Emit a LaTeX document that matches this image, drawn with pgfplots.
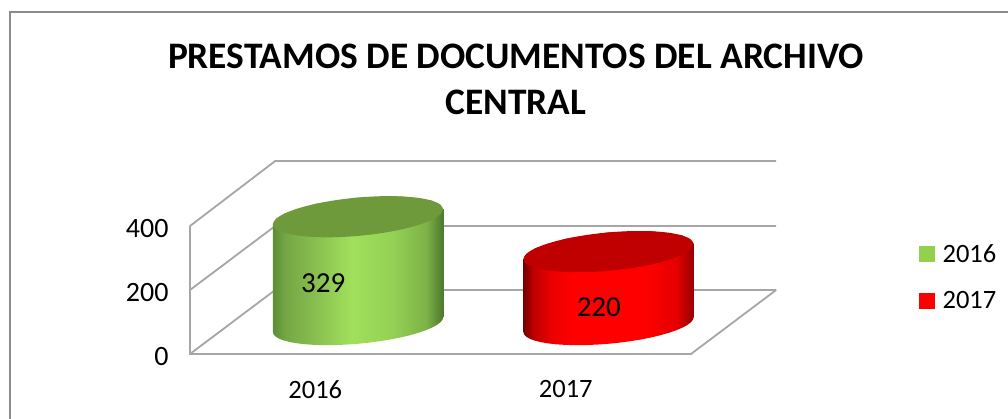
\documentclass[border=0pt]{standalone}
\usepackage{fontspec}
\setmainfont{Carlito}
\usepackage{pgfplots}
\usepackage{pgfplotstable}
\pgfplotsset{compat=1.18}
\definecolor{gridg}{HTML}{A6A6A6}
\definecolor{frameg}{HTML}{8C8C8C}
\definecolor{greentop}{HTML}{6F9A3C}
\definecolor{redtop}{HTML}{C00000}
\definecolor{g2016}{HTML}{92D050}
\definecolor{r2017}{HTML}{FF0000}
\pgfdeclarehorizontalshading{greencyl}{100bp}{
 rgb(0bp)=(0.36,0.56,0.20);
 rgb(25bp)=(0.36,0.56,0.20);
 rgb(29bp)=(0.46,0.66,0.27);
 rgb(37bp)=(0.53,0.74,0.31);
 rgb(48bp)=(0.63,0.88,0.36);
 rgb(60bp)=(0.58,0.82,0.33);
 rgb(70bp)=(0.49,0.70,0.28);
 rgb(75bp)=(0.30,0.47,0.17);
 rgb(100bp)=(0.30,0.47,0.17)}
\pgfdeclarehorizontalshading{redcyl}{100bp}{
 rgb(0bp)=(0.45,0,0);
 rgb(25bp)=(0.45,0,0);
 rgb(28bp)=(0.75,0,0);
 rgb(33bp)=(0.92,0,0);
 rgb(40bp)=(1,0,0);
 rgb(60bp)=(1,0,0);
 rgb(70bp)=(0.90,0,0);
 rgb(75bp)=(0.58,0,0);
 rgb(100bp)=(0.58,0,0)}
% unit circle, outline of a cylinder: flag=1 points are raised to the value
\pgfplotstableread{
c s f
-1.000 0.000 0
-0.991 -0.131 0
-0.966 -0.259 0
-0.924 -0.383 0
-0.866 -0.500 0
-0.793 -0.609 0
-0.707 -0.707 0
-0.609 -0.793 0
-0.500 -0.866 0
-0.383 -0.924 0
-0.259 -0.966 0
-0.131 -0.991 0
0.000 -1.000 0
0.131 -0.991 0
0.259 -0.966 0
0.383 -0.924 0
0.500 -0.866 0
0.609 -0.793 0
0.707 -0.707 0
0.793 -0.609 0
0.866 -0.500 0
0.924 -0.383 0
0.966 -0.259 0
0.991 -0.131 0
1.000 0.000 0
1.000 0.000 1
0.866 0.500 1
0.500 0.866 1
0.000 1.000 1
-0.500 0.866 1
-0.866 0.500 1
-1.000 0.000 1
}\cylbody
\pgfplotstableread{
c s
1.000 0.000
0.966 0.259
0.866 0.500
0.707 0.707
0.500 0.866
0.259 0.966
0.000 1.000
-0.259 0.966
-0.500 0.866
-0.707 0.707
-0.866 0.500
-0.966 0.259
-1.000 0.000
-0.966 -0.259
-0.866 -0.500
-0.707 -0.707
-0.500 -0.866
-0.259 -0.966
0.000 -1.000
0.259 -0.966
0.500 -0.866
0.707 -0.707
0.866 -0.500
0.966 -0.259
}\cyltop
\newcommand\cyl[4]{%
 \addplot[draw=none,shading=#3,forget plot] table[
   x expr=#1+0.171+0.34*\thisrow{c},
   y expr=92+23.4*\thisrow{c}+60*\thisrow{s}+(#2+8)*\thisrow{f}] {\cylbody} --cycle;
 \addplot[draw=none,fill=#4,smooth,forget plot] table[
   x expr=#1+0.171+0.34*\thisrow{c},
   y expr=100+#2+23.4*\thisrow{c}+60*\thisrow{s}] {\cyltop} --cycle;
}
\begin{document}
\begin{tikzpicture}[x=1pt,y=1pt]
\useasboundingbox (0,0) rectangle (1008,419);
\draw[frameg,line width=2pt] (10,0) -- (10,407) -- (1008,407);
\node[font=\bfseries\fontsize{37.4}{46}\selectfont,align=center,anchor=center] at (516,339.5) {PRESTAMOS DE DOCUMENTOS DEL ARCHIVO\\CENTRAL};
\begin{axis}[
  at={(190pt,65pt)},anchor=south west,scale only axis,width=501pt,height=128pt,
  xmin=-0.5,xmax=1.5,ymin=0,ymax=400,clip=false,
  axis line style={draw=none},tick style={draw=none},
  xtick={0,1},xticklabels={2016,2017},ytick={0,200,400},
  xticklabel style={font=\fontsize{26.5}{30}\selectfont,yshift=-23pt},
  yticklabel style={font=\fontsize{28}{32}\selectfont,xshift=-18pt,yshift=-3pt},
  /pgf/number format/assume math mode=true,
  legend style={draw=none,fill=none,at={(1.0,1.0)},anchor=north west,xshift=225pt,yshift=-14pt,
     font=\fontsize{26.5}{30}\selectfont,row sep=24pt,legend cell align=left,
     /tikz/every odd column/.append style={column sep=6pt}},
  legend image code/.code={\fill[#1] (0pt,-7.5pt) rectangle (15pt,7.5pt);},
]
\addlegendimage{g2016}\addlegendentry{2016}
\addlegendimage{r2017}\addlegendentry{2017}
% walls
\addplot[gridg,line width=1.8pt,forget plot] coordinates {(-0.5,0)(-0.16,200)(1.84,200)};
\addplot[gridg,line width=1.8pt,forget plot] coordinates {(-0.5,200)(-0.16,400)(1.84,400)};
\addplot[gridg,line width=1.8pt,forget plot] coordinates {(-0.5,400)(-0.16,603)(1.84,603)};
\addplot[gridg,line width=1.8pt,forget plot] coordinates {(-0.5,400)(-0.5,0)(1.5,0)(1.84,200)};
\cyl{0}{329}{greencyl}{greentop}
\cyl{1}{220}{redcyl}{redtop}
\node[font=\fontsize{29}{32}\selectfont] at (axis cs:0.032,222) {329};
\node[font=\fontsize{29}{32}\selectfont] at (axis cs:1.132,147) {220};
\end{axis}
\end{tikzpicture}
\end{document}
